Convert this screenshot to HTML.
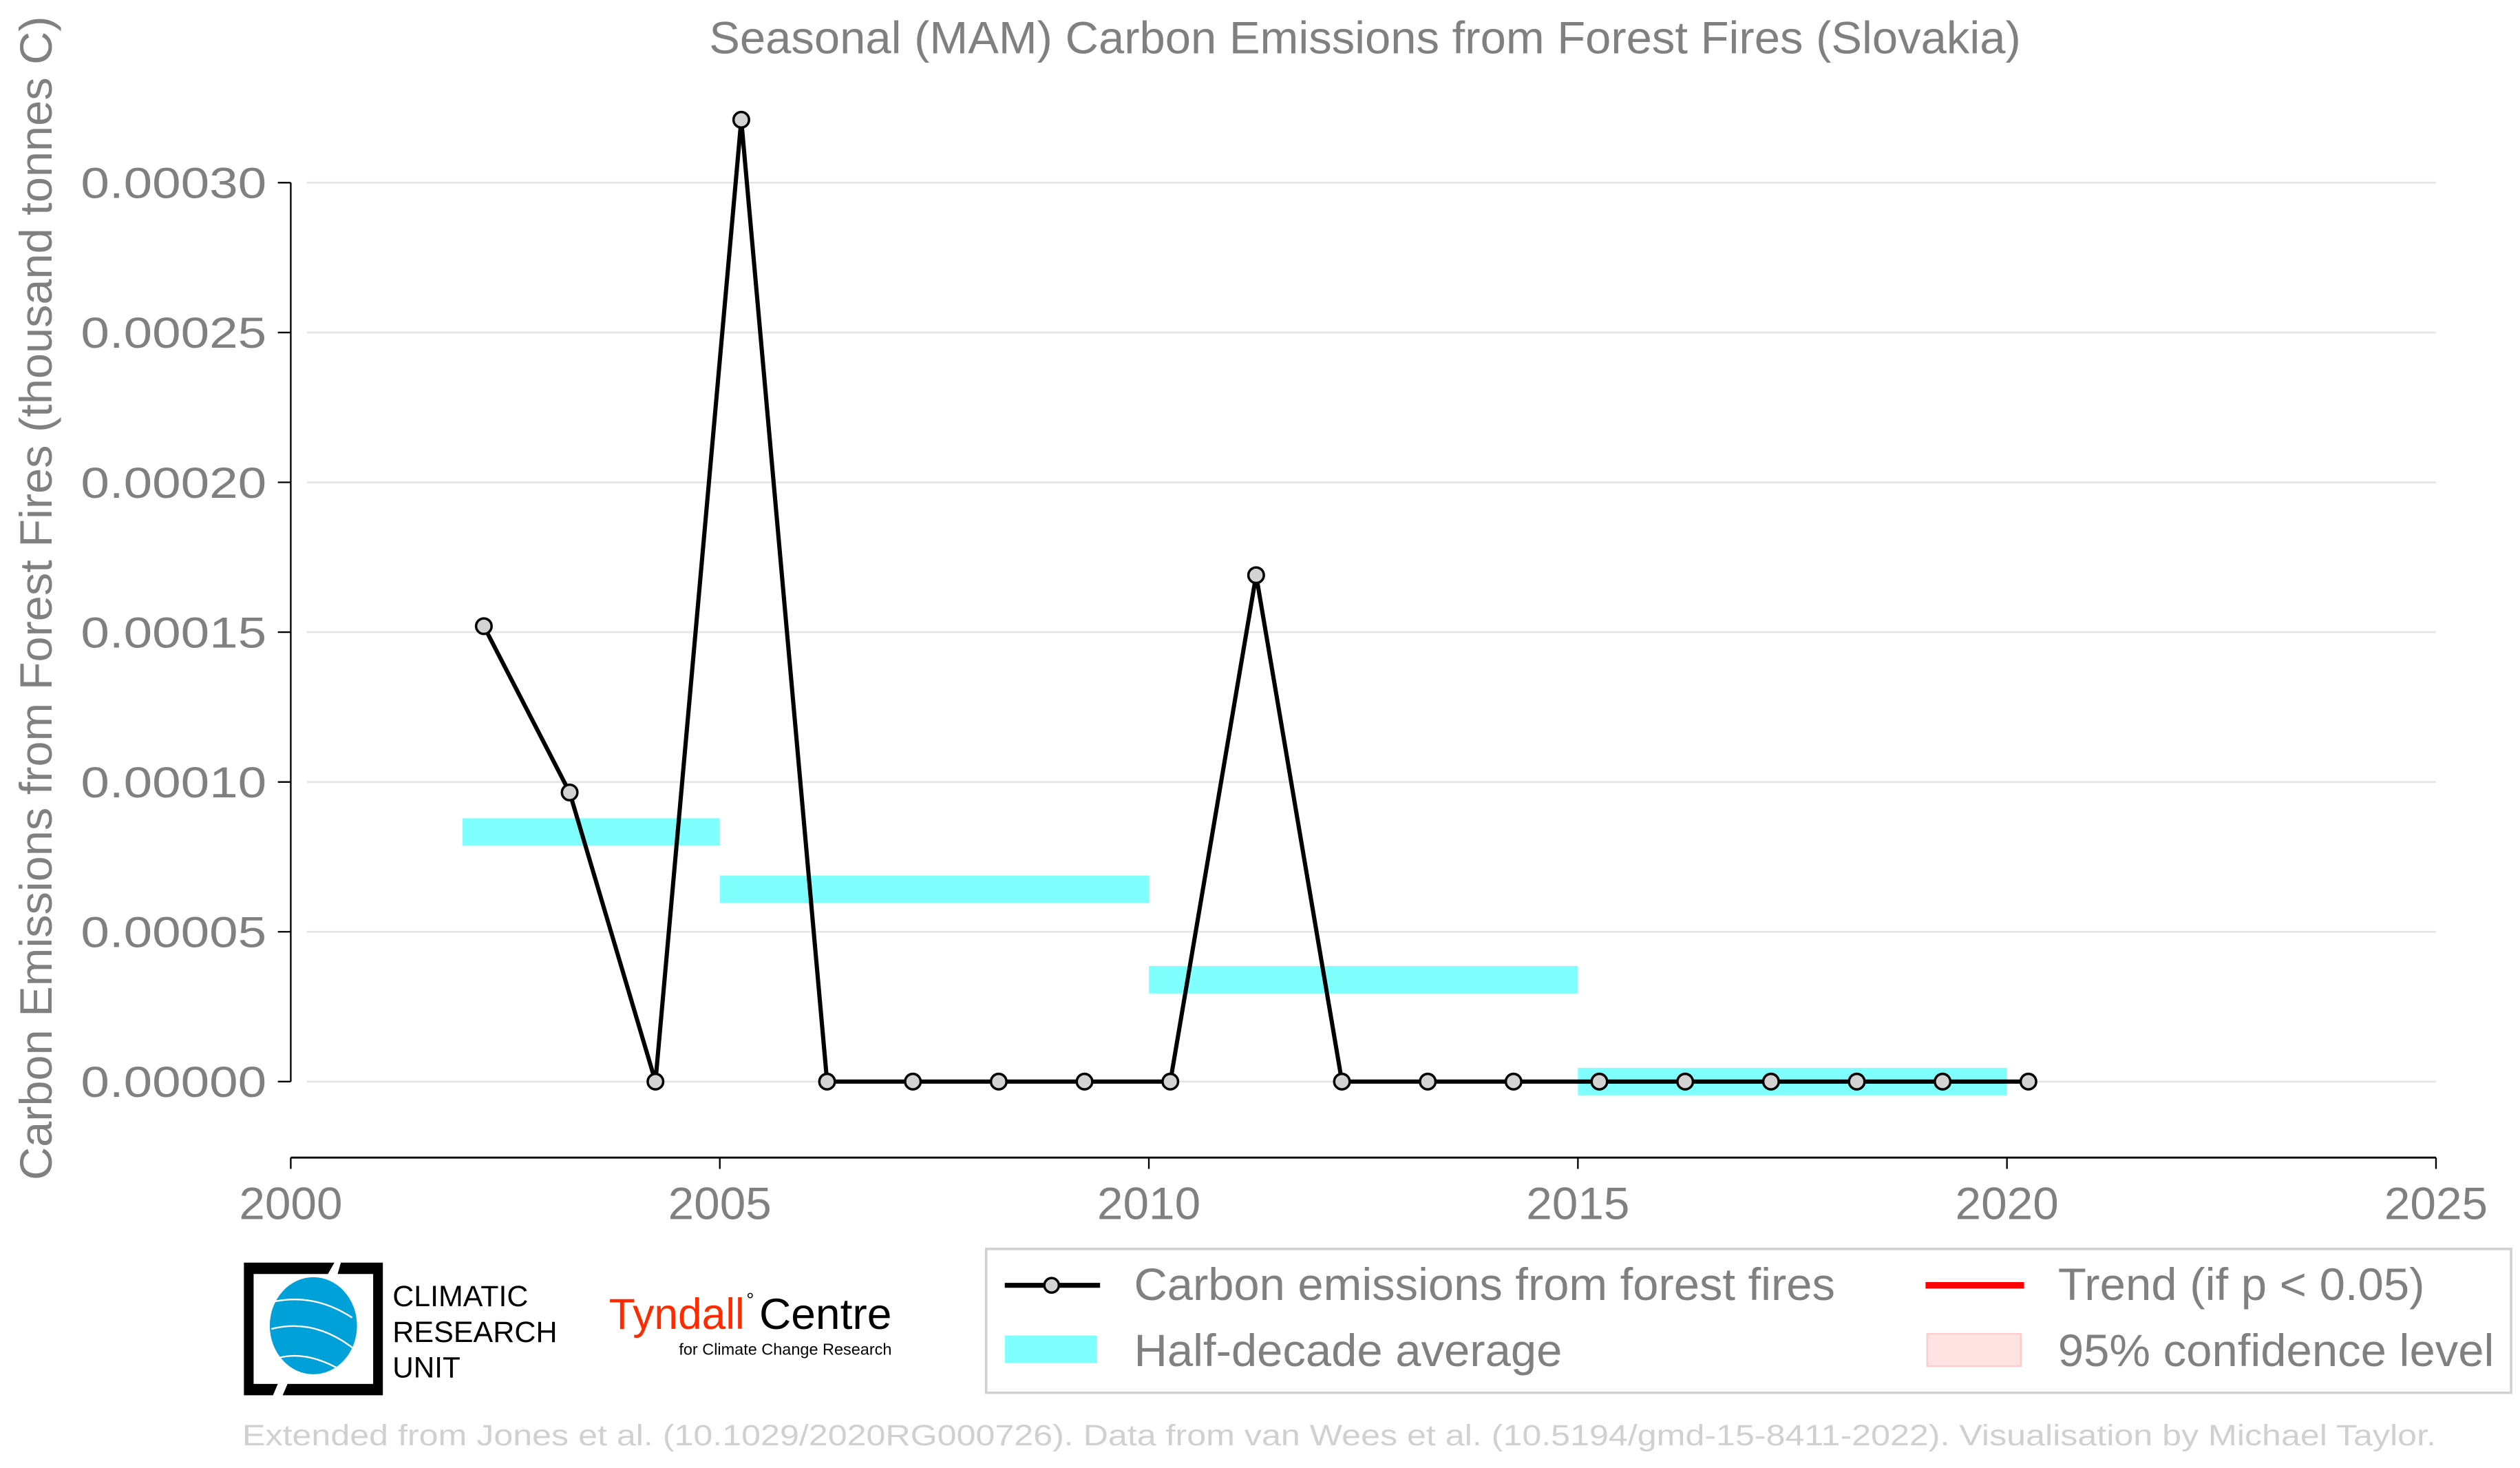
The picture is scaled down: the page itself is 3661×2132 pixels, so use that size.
<!DOCTYPE html>
<html><head><meta charset="utf-8"><style>
html,body{margin:0;padding:0;background:#fff;}
svg{display:block;font-family:"Liberation Sans",sans-serif;}
</style></head><body>
<svg id="chart" width="3661" height="2132" viewBox="0 0 1560 908" preserveAspectRatio="none">
<text x="845" y="33" text-anchor="middle" font-size="28" fill="#808080" textLength="812" lengthAdjust="spacingAndGlyphs">Seasonal (MAM) Carbon Emissions from Forest Fires (Slovakia)</text>
<text transform="translate(32,370) rotate(-90)" text-anchor="middle" font-size="28" fill="#808080" textLength="720" lengthAdjust="spacingAndGlyphs">Carbon Emissions from Forest Fires (thousand tonnes C)</text>
<g id="grid"></g>
<g id="axes"></g>
<g id="bars"></g>
<g id="series"></g>

<g>
<path d="M151,781 H207 L203,788 H157 V856 H172 L169,863 H151 Z" fill="#000"/>
<path d="M211,781 H237 V863 H175 L178,856 H231 V788 H209 Z" fill="#000"/>
<ellipse cx="194" cy="820" rx="27" ry="30" fill="#00a0d8"/>
<path d="M170,805 Q195,800 218,815 M168,822 Q195,815 220,835 M172,840 Q190,835 212,848" stroke="#fff" stroke-width="1" fill="none"/>
<text x="243" y="808" font-size="18" fill="#000" textLength="84" lengthAdjust="spacingAndGlyphs">CLIMATIC</text>
<text x="243" y="830" font-size="18" fill="#000" textLength="102" lengthAdjust="spacingAndGlyphs">RESEARCH</text>
<text x="243" y="852" font-size="18" fill="#000" textLength="42" lengthAdjust="spacingAndGlyphs">UNIT</text>
</g>
<g>
<text x="377" y="822" font-size="27" fill="#ff2a00" textLength="84" lengthAdjust="spacingAndGlyphs">Tyndall</text>
<text x="462" y="808" font-size="12" fill="#000">°</text>
<text x="470" y="822" font-size="27" fill="#000" textLength="82" lengthAdjust="spacingAndGlyphs">Centre</text>
<text x="552" y="838" text-anchor="end" font-size="10" fill="#000">for Climate Change Research</text>
</g>

<g>
<rect x="610.5" y="772.5" width="944" height="89" fill="#fff" stroke="#d0d0d0" stroke-width="1.5"/>
<g>
<line x1="622" y1="795" x2="681" y2="795" stroke="#000" stroke-width="3"/>
<circle cx="651" cy="795" r="4.5" fill="#d3d3d3" stroke="#000" stroke-width="1.5"/>
<text x="702" y="804" font-size="28" fill="#808080" textLength="434" lengthAdjust="spacingAndGlyphs">Carbon emissions from forest fires</text>
</g>
<g>
<line x1="1192" y1="795" x2="1253" y2="795" stroke="#f00" stroke-width="4"/>
<text x="1274" y="804" font-size="28" fill="#808080" textLength="227" lengthAdjust="spacingAndGlyphs">Trend (if p &lt; 0.05)</text>
</g>
<g>
<rect x="622" y="826" width="57" height="17" fill="#80ffff"/>
<text x="702" y="845" font-size="28" fill="#808080" textLength="265" lengthAdjust="spacingAndGlyphs">Half-decade average</text>
</g>
<g>
<rect x="1193" y="825" width="58" height="20" fill="#ffe3e3" stroke="#ffcccc" stroke-width="1"/>
<text x="1274" y="845" font-size="28" fill="#808080" textLength="270" lengthAdjust="spacingAndGlyphs">95% confidence level</text>
</g>
</g>
<text x="150" y="894" font-size="18" fill="#d0d0d0" textLength="1358" lengthAdjust="spacingAndGlyphs">Extended from Jones et al. (10.1029/2020RG000726). Data from van Wees et al. (10.5194/gmd-15-8411-2022). Visualisation by Michael Taylor.</text>
</svg>
<script>
const years = [2002,2003,2004,2005,2006,2007,2008,2009,2010,2011,2012,2013,2014,2015,2016,2017,2018,2019,2020];
const emissions = [0.000152,0.0000965,0,0.000321,0,0,0,0,0,0.000169,0,0,0,0,0,0,0,0,0];
const halfDecadeStarts = [2002,2005,2010,2015];
const halfDecadeEnds = [2005,2010,2015,2020];
const halfDecadeValues = [0.0000833,0.0000642,0.0000340,0];
const yTicks = [0,0.00005,0.0001,0.00015,0.0002,0.00025,0.0003];
const yTickLabels = ["0.00000","0.00005","0.00010","0.00015","0.00020","0.00025","0.00030"];
const xTicks = [2000,2005,2010,2015,2020,2025];

const NS = "http://www.w3.org/2000/svg";
const xS = v => 180 + (v - 2000) * (1508 - 180) / 25;
const yS = v => 669 - v * (669 - 113) / 0.0003;
function mk(tag, attrs, parent) {
  const e = document.createElementNS(NS, tag);
  for (const k in attrs) e.setAttribute(k, attrs[k]);
  parent.appendChild(e);
  return e;
}
const grid = document.getElementById('grid');
const axes = document.getElementById('axes');
const bars = document.getElementById('bars');
const series = document.getElementById('series');

yTicks.forEach((t, i) => {
  const g = mk('line', {x1: 190, x2: 1508, y1: yS(t), y2: yS(t), stroke: '#e5e5e5', 'stroke-width': 1.2}, grid);
  
  
  const tk = mk('line', {x1: 172, x2: 180, y1: yS(t), y2: yS(t), stroke: '#000', 'stroke-width': 1}, axes);
  
  
  const lb = mk('text', {x: 165, y: yS(t) + 9.5, 'text-anchor': 'end', 'font-size': 27, fill: '#808080', textLength: 115, lengthAdjust: 'spacingAndGlyphs'}, axes);
  lb.textContent = yTickLabels[i];
  
  
});
const ys = mk('line', {x1: 180, x2: 180, y1: yS(0.0003), y2: yS(0), stroke: '#000', 'stroke-width': 1}, axes);


const xs = mk('line', {x1: 180, x2: 1508, y1: 716, y2: 716, stroke: '#000', 'stroke-width': 1.2}, axes);


xTicks.forEach(t => {
  const tk = mk('line', {x1: xS(t), x2: xS(t), y1: 716, y2: 723, stroke: '#000', 'stroke-width': 1}, axes);
  
  
  const lb = mk('text', {x: xS(t), y: 754, 'text-anchor': 'middle', 'font-size': 28, fill: '#808080', textLength: 64, lengthAdjust: 'spacingAndGlyphs'}, axes);
  lb.textContent = String(t);
  
  
});
halfDecadeValues.forEach((v, i) => {
  const r = mk('rect', {x: xS(halfDecadeStarts[i]), y: yS(v) - 8.5, width: xS(halfDecadeEnds[i]) - xS(halfDecadeStarts[i]), height: 17, fill: '#80ffff'}, bars);
  
  
});
const pts = years.map((y, i) => xS(y + 0.25) + ',' + yS(emissions[i])).join(' ');
const pl = mk('polyline', {points: pts, fill: 'none', stroke: '#000', 'stroke-width': 2.6, 'stroke-linejoin': 'miter'}, series);


years.forEach((y, i) => {
  const c = mk('circle', {cx: xS(y + 0.25), cy: yS(emissions[i]), r: 4.8, fill: '#d3d3d3', stroke: '#000', 'stroke-width': 1.5}, series);
  
  
});
</script>
</body></html>
